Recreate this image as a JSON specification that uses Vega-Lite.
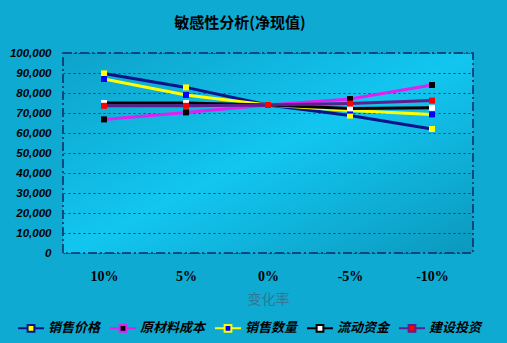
{
  "$schema": "https://vega.github.io/schema/vega-lite/v6.json",
  "autosize": {"type": "none"},
  "width": 410,
  "height": 200,
  "padding": {"left": 63, "top": 53, "right": 34, "bottom": 90},
  "background": "#0eaad2",
  "title": {
    "text": "敏感性分析(净现值)",
    "font": "Noto Sans CJK SC",
    "fontSize": 15,
    "fontWeight": "bold",
    "color": "#000000",
    "frame": "group",
    "anchor": "middle",
    "dx": -28,
    "offset": 16
  },
  "config": {
    "view": {
      "fill": {
        "gradient": "linear",
        "x1": 0, "y1": 0, "x2": 1, "y2": 1,
        "stops": [
          {"offset": 0, "color": "#0ea2c9"},
          {"offset": 0.5, "color": "#12c6f0"},
          {"offset": 1, "color": "#0c98bd"}
        ]
      },
      "stroke": "#0a2a66",
      "strokeWidth": 1.5,
      "strokeDash": [9, 3, 2, 3]
    }
  },
  "data": {
    "values": [
      {"rate": "10%", "series": "销售价格", "npv": 89800},
      {"rate": "5%", "series": "销售价格", "npv": 82800},
      {"rate": "0%", "series": "销售价格", "npv": 74000},
      {"rate": "-5%", "series": "销售价格", "npv": 68700},
      {"rate": "-10%", "series": "销售价格", "npv": 62000},
      {"rate": "10%", "series": "原材料成本", "npv": 66800},
      {"rate": "5%", "series": "原材料成本", "npv": 70300},
      {"rate": "0%", "series": "原材料成本", "npv": 74000},
      {"rate": "-5%", "series": "原材料成本", "npv": 77000},
      {"rate": "-10%", "series": "原材料成本", "npv": 84000},
      {"rate": "10%", "series": "销售数量", "npv": 87000},
      {"rate": "5%", "series": "销售数量", "npv": 79000},
      {"rate": "0%", "series": "销售数量", "npv": 74000},
      {"rate": "-5%", "series": "销售数量", "npv": 71200},
      {"rate": "-10%", "series": "销售数量", "npv": 69300},
      {"rate": "10%", "series": "流动资金", "npv": 75000},
      {"rate": "5%", "series": "流动资金", "npv": 75000},
      {"rate": "0%", "series": "流动资金", "npv": 74000},
      {"rate": "-5%", "series": "流动资金", "npv": 72300},
      {"rate": "-10%", "series": "流动资金", "npv": 72600},
      {"rate": "10%", "series": "建设投资", "npv": 73600},
      {"rate": "5%", "series": "建设投资", "npv": 73600},
      {"rate": "0%", "series": "建设投资", "npv": 74000},
      {"rate": "-5%", "series": "建设投资", "npv": 74700},
      {"rate": "-10%", "series": "建设投资", "npv": 76200}
    ]
  },
  "encoding": {
    "x": {
      "field": "rate",
      "type": "ordinal",
      "sort": ["10%", "5%", "0%", "-5%", "-10%"],
      "scale": {"type": "point", "padding": 0.5},
      "axis": {
        "title": "变化率",
        "labelAngle": 0,
        "ticks": false,
        "domain": false,
        "grid": false,
        "labelFont": "Liberation Serif",
        "labelFontSize": 14,
        "labelFontWeight": "bold",
        "labelColor": "#000000",
        "labelPadding": 16,
        "titleFont": "Noto Sans CJK SC",
        "titleFontSize": 14,
        "titleFontWeight": "normal",
        "titleColor": "#2f7894",
        "titlePadding": 9
      }
    },
    "y": {
      "field": "npv",
      "type": "quantitative",
      "scale": {"domain": [0, 100000], "nice": false},
      "axis": {
        "title": null,
        "values": [0, 10000, 20000, 30000, 40000, 50000, 60000, 70000, 80000, 90000, 100000],
        "format": ",.0f",
        "ticks": false,
        "domain": false,
        "grid": true,
        "gridColor": "#173a8c",
        "gridDash": [2, 3],
        "gridWidth": 1.2,
        "labelFont": "Liberation Sans",
        "labelFontSize": 11.5,
        "labelFontWeight": "bold",
        "labelFontStyle": "italic",
        "labelColor": "#000000",
        "labelPadding": 12
      }
    }
  },
  "layer": [
    {
      "mark": {"type": "line", "strokeWidth": 3},
      "encoding": {
        "stroke": {
          "field": "series",
          "type": "nominal",
          "scale": {
            "domain": ["销售价格", "原材料成本", "销售数量", "流动资金", "建设投资"],
            "range": ["#0a1488", "#e020f0", "#ffff00", "#000000", "#5e1e8e"]
          },
          "legend": {
            "orient": "none",
            "legendX": -46,
            "legendY": 261,
            "direction": "horizontal",
            "title": null,
            "padding": 0,
            "symbolType": "M-1,0H-0.26M0.26,0H1M-0.26,-0.26H0.26V0.26H-0.26Z",
            "symbolSize": 676,
            "symbolStrokeWidth": 2,
            "labelFont": "Noto Sans CJK SC",
            "labelFontSize": 13,
            "labelFontWeight": "bold",
            "labelFontStyle": "italic",
            "labelColor": "#000000",
            "labelOffset": 3,
            "columnPadding": 5,
            "encode": {
              "symbols": {
                "update": {
                  "fill": {"scale": "fill", "field": "value"},
                  "stroke": {"scale": "stroke", "field": "value"},
                  "opacity": {"value": 1}
                }
              }
            }
          }
        }
      }
    },
    {
      "mark": {"type": "point", "shape": "square", "filled": true, "size": 36, "opacity": 1},
      "encoding": {
        "fill": {
          "field": "series",
          "type": "nominal",
          "scale": {
            "domain": ["销售价格", "原材料成本", "销售数量", "流动资金", "建设投资"],
            "range": ["#ffff00", "#000000", "#0000ff", "#ffffff", "#ff0000"]
          },
          "legend": {
            "orient": "none",
            "legendX": -46,
            "legendY": 261,
            "direction": "horizontal",
            "title": null,
            "padding": 0,
            "symbolType": "M-1,0H-0.26M0.26,0H1M-0.26,-0.26H0.26V0.26H-0.26Z",
            "symbolSize": 676,
            "symbolStrokeWidth": 2,
            "labelFont": "Noto Sans CJK SC",
            "labelFontSize": 13,
            "labelFontWeight": "bold",
            "labelFontStyle": "italic",
            "labelColor": "#000000",
            "labelOffset": 3,
            "columnPadding": 5,
            "encode": {
              "symbols": {
                "update": {
                  "fill": {"scale": "fill", "field": "value"},
                  "stroke": {"scale": "stroke", "field": "value"},
                  "opacity": {"value": 1}
                }
              }
            }
          }
        }
      }
    }
  ]
}
